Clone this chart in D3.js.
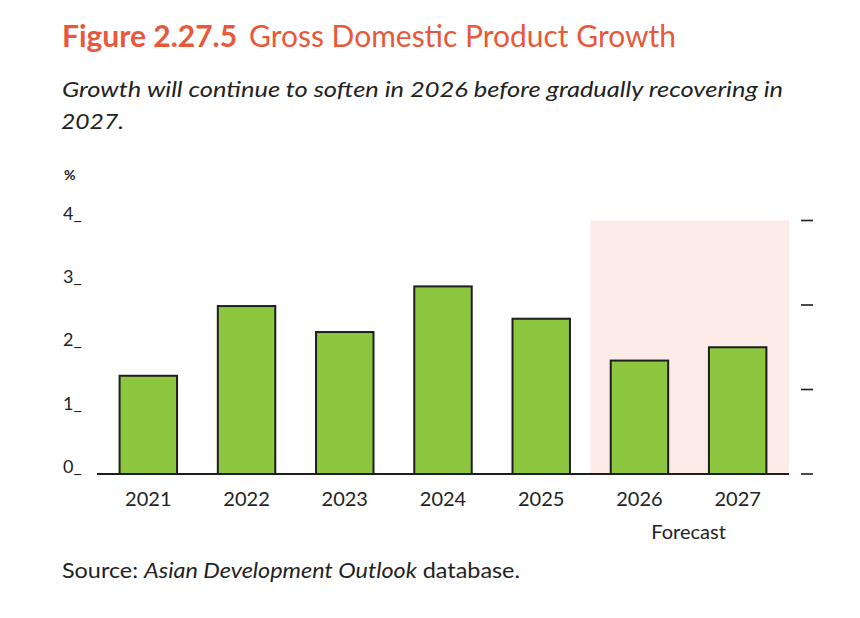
<!DOCTYPE html>
<html>
<head>
<meta charset="utf-8">
<script src="https://cdn.jsdelivr.net/npm/d3@7"></script>
<style>
  body { margin: 0; background: #fff; }
  svg text { font-family: Lato, "Open Sans", sans-serif; }
</style>
</head>
<body>
<script>
let years = ["2021", "2022", "2023", "2024", "2025", "2026", "2027"]
let growth = [1.55, 2.65, 2.24, 2.96, 2.45, 1.79, 2.0]
let forecastYears = ["2026", "2027"]
let yTicks = [0, 1, 2, 3, 4]
let rightTicks = [0, 1, 2, 3]

let width = 860, height = 618
let svg = d3.select("body").append("svg").attr("width", width).attr("height", height)

// title
let title = svg.append("text").attr("x", 62).attr("y", 47)
  .attr("fill", "#e8583b").style("font-size", "30px")
  .attr("textLength", 614).attr("lengthAdjust", "spacingAndGlyphs")
title.append("tspan").attr("font-weight", "bold").text("Figure 2.27.5")
title.append("tspan").attr("dx", 12).text("Gross Domestic Product Growth")

let sub = svg.append("g").attr("fill", "#222").style("font-style", "italic").style("font-size", "22px")
sub.append("text").attr("x", 62).attr("y", 97)
  .attr("textLength", 721).attr("lengthAdjust", "spacingAndGlyphs")
  .text("Growth will continue to soften in 2026 before gradually recovering in")
sub.append("text").attr("x", 61).attr("y", 129)
  .attr("textLength", 63).attr("lengthAdjust", "spacingAndGlyphs")
  .text("2027.")

svg.append("text").attr("x", 64).attr("y", 180).attr("fill", "#222")
  .attr("font-weight", "bold").style("font-size", "14px").text("%")

let x = d3.scaleBand().domain(years).range([97, 789]).paddingInner(0.415).paddingOuter(0.23)
let y = d3.scaleLinear().domain([0, 4]).range([474, 220.5])
let yRight = d3.scaleLinear().domain([0, 3]).range([474, 220.5])

// forecast shading
let shadeStart = x(forecastYears[0]) - x.step() * x.paddingInner() / 2
svg.append("rect")
  .attr("x", shadeStart).attr("y", y(4))
  .attr("width", 789 - shadeStart).attr("height", y(0) - y(4))
  .attr("fill", "#fcebe7")

// bars
svg.selectAll("rect.bar")
  .data(years)
  .join("rect")
  .classed("bar", true)
  .attr("x", d => x(d))
  .attr("y", (d, i) => y(growth[i]))
  .attr("width", x.bandwidth())
  .attr("height", (d, i) => y(0) - y(growth[i]))
  .attr("fill", "#8dc63f")
  .attr("stroke", "#1e1e1e")
  .attr("stroke-width", 2)

// baseline
svg.append("line").attr("x1", 97).attr("x2", 789)
  .attr("y1", y(0)).attr("y2", y(0))
  .attr("stroke", "#1e1e1e").attr("stroke-width", 2)

// left labels "n_"
svg.append("g").selectAll("text")
  .data(yTicks)
  .join("text")
  .attr("x", 63).attr("y", d => y(d) - 1)
  .attr("fill", "#222").style("font-size", "18px")
  .text(d => d + "_")

// right ticks
svg.append("g").selectAll("line")
  .data(rightTicks)
  .join("line")
  .attr("x1", 801).attr("x2", 813)
  .attr("y1", d => yRight(d)).attr("y2", d => yRight(d))
  .attr("stroke", "#1e1e1e").attr("stroke-width", 1.6)

// x labels
svg.append("g").selectAll("text")
  .data(years)
  .join("text")
  .attr("x", d => x(d) + x.bandwidth() / 2)
  .attr("y", 506)
  .attr("text-anchor", "middle")
  .attr("fill", "#222").style("font-size", "20px")
  .text(d => d)

svg.append("text")
  .attr("x", (x(forecastYears[0]) + x(forecastYears[1]) + x.bandwidth()) / 2)
  .attr("y", 539).attr("text-anchor", "middle")
  .attr("fill", "#222").style("font-size", "20px")
  .text("Forecast")

// source
let src = svg.append("text").attr("x", 62).attr("y", 578)
  .attr("fill", "#222").style("font-size", "21px")
  .attr("textLength", 458).attr("lengthAdjust", "spacingAndGlyphs")
src.append("tspan").text("Source: ")
src.append("tspan").style("font-style", "italic").text("Asian Development Outlook")
src.append("tspan").text(" database.")
</script>
</body>
</html>
